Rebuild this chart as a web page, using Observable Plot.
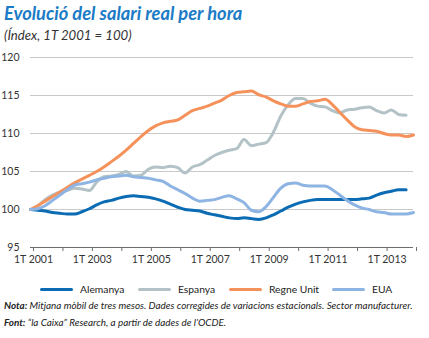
<!DOCTYPE html>
<html>
<head>
<meta charset="utf-8">
<script src="https://cdn.jsdelivr.net/npm/d3@7"></script>
<script src="https://cdn.jsdelivr.net/npm/@observablehq/plot@0.6"></script>
<style>
  html, body { margin: 0; padding: 0; background: #fff; }
  body { width: 429px; height: 338px; position: relative; overflow: hidden; font-family: Lato, "Open Sans", sans-serif; color: #222; }
  #title { position: absolute; left: 4px; top: 2px; font-size: 18.3px; font-weight: bold; font-style: italic; color: #1b7bc6; white-space: nowrap; }
  #subtitle { position: absolute; left: 4px; top: 27px; font-size: 13.2px; font-style: italic; color: #333; white-space: nowrap; }
  #chart { position: absolute; left: 0; top: 44px; }
  #legend { position: absolute; left: 0; top: 283px; width: 429px; height: 14px; font-size: 10.3px; color: #222; }
  .item { position: absolute; top: 0; display: flex; align-items: center; white-space: nowrap; }
  .sw { width: 33px; height: 3px; border-radius: 2px; margin-right: 7px; }
  .note { position: absolute; left: 4px; font-size: 9.9px; font-style: italic; color: #222; white-space: nowrap; }
</style>
</head>
<body>
<div id="title">Evolució del salari real per hora</div>
<div id="subtitle">(Índex, 1T 2001 = 100)</div>
<div id="chart"></div>
<div id="legend"></div>
<div class="note" id="n1" style="top:299px"><b>Nota:</b> Mitjana mòbil de tres mesos. Dades corregides de variacions estacionals. Sector manufacturer.</div>
<div class="note" id="n2" style="top:316px"><b>Font:</b> “la Caixa” Research, a partir de dades de l’OCDE.</div>
<script>
// Series names and colours
const seriesNames = ["Alemanya", "Espanya", "Regne Unit", "EUA"];
const seriesColors = ["#0b6cb4", "#b3c2c6", "#f5925c", "#8db4e2"];

// Quarterly values from 1T 2001
const alemanya = [100, 99.9, 99.8, 99.6, 99.5, 99.4, 99.4, 99.7, 100.1, 100.6, 101.0, 101.2, 101.5, 101.7, 101.8, 101.7, 101.6, 101.4, 101.1, 100.7, 100.3, 100.0, 99.9, 99.8, 99.5, 99.3, 99.1, 98.9, 98.8, 98.9, 98.8, 98.7, 98.9, 99.3, 99.8, 100.3, 100.7, 101.0, 101.2, 101.3, 101.3, 101.3, 101.3, 101.3, 101.3, 101.4, 101.5, 101.9, 102.2, 102.4, 102.6, 102.6];
const espanya = [100, 100.5, 101.3, 101.9, 102.3, 102.5, 102.8, 102.7, 102.5, 103.6, 104.3, 104.4, 104.6, 105.0, 104.4, 104.5, 105.3, 105.6, 105.5, 105.7, 105.5, 104.8, 105.6, 105.9, 106.5, 107.1, 107.5, 107.8, 108.0, 109.2, 108.4, 108.6, 108.8, 110.2, 112.3, 113.8, 114.6, 114.6, 114.0, 113.6, 113.5, 113.0, 112.7, 113.1, 113.2, 113.4, 113.5, 113.0, 112.7, 113.1, 112.5, 112.4];
const regneUnit = [100, 100.5, 101.1, 101.7, 102.3, 102.9, 103.5, 104.0, 104.5, 105.0, 105.6, 106.3, 107.0, 107.8, 108.7, 109.6, 110.4, 111.0, 111.4, 111.6, 111.8, 112.4, 113.0, 113.3, 113.6, 114.0, 114.4, 115.0, 115.4, 115.5, 115.6, 115.1, 114.8, 114.3, 113.9, 113.6, 113.6, 113.9, 114.2, 114.3, 114.5, 113.8, 112.8, 111.8, 110.9, 110.5, 110.4, 110.3, 110.0, 109.8, 109.8, 109.6, 109.8];
const eua = [100, 100.1, 100.5, 101.2, 101.9, 102.6, 103.2, 103.4, 103.6, 103.9, 104.1, 104.3, 104.4, 104.5, 104.3, 104.2, 104.1, 103.9, 103.7, 103.1, 102.6, 102.1, 101.5, 101.1, 101.2, 101.3, 101.6, 101.8, 101.4, 100.9, 99.9, 99.7, 100.4, 101.6, 102.8, 103.4, 103.5, 103.2, 103.1, 103.1, 103.1, 102.6, 101.9, 101.2, 100.6, 100.2, 100.0, 99.7, 99.6, 99.4, 99.4, 99.4, 99.6];

const yTicks = [95, 100, 105, 110, 115, 120];
const tickYears = d3.range(2001, 2015);
const labelYears = [2001, 2003, 2005, 2007, 2009, 2011, 2013];

const allValues = [alemanya, espanya, regneUnit, eua];
const quarterDate = i => new Date(Date.UTC(2001, i * 3, 1));
const data = [];
allValues.forEach((vals, s) => vals.forEach((v, i) => data.push({serie: seriesNames[s], date: quarterDate(i), value: v})));

const chart = Plot.plot({
  width: 429,
  height: 228,
  marginLeft: 30,
  marginRight: 16,
  marginTop: 13,
  marginBottom: 25,
  style: {fontFamily: "Lato, 'Open Sans', sans-serif", fontSize: "10px", color: "#333", background: "transparent"},
  x: {type: "utc", domain: [new Date(Date.UTC(2001, 0, 1)), new Date(Date.UTC(2014, 0, 1))]},
  y: {domain: [95, 120]},
  color: {domain: seriesNames, range: seriesColors},
  marks: [
    Plot.gridY(yTicks.filter(d => d > 95), {stroke: "#c9c9c9", strokeOpacity: 1, strokeWidth: 1}),
    Plot.ruleY([95], {stroke: "#6e6e6e", strokeWidth: 1}),
    Plot.axisY({ticks: yTicks, tickSize: 0, tickPadding: 11, fontSize: 10.5, label: null}),
    Plot.axisX({
      ticks: tickYears.map(y => new Date(Date.UTC(y, 0, 1))),
      tickFormat: d => labelYears.includes(d.getUTCFullYear()) ? "1T " + d.getUTCFullYear() : "",
      tickSize: 4, tickPadding: 4, fontSize: 10.5, dx: 3, label: null, stroke: "#6e6e6e"
    }),
    Plot.line(data, {x: "date", y: "value", z: "serie", stroke: "serie", strokeWidth: 3, curve: "monotone-x", strokeLinejoin: "round", strokeLinecap: "round"})
  ]
});
document.getElementById("chart").appendChild(chart);

// Legend
const legendX = [40, 138, 229, 332];
const legend = document.getElementById("legend");
seriesNames.forEach((name, i) => {
  const item = document.createElement("div");
  item.className = "item";
  item.style.left = legendX[i] + "px";
  const sw = document.createElement("div");
  sw.className = "sw";
  sw.style.background = seriesColors[i];
  const t = document.createElement("span");
  t.textContent = name;
  item.appendChild(sw);
  item.appendChild(t);
  legend.appendChild(item);
});
</script>
</body>
</html>
